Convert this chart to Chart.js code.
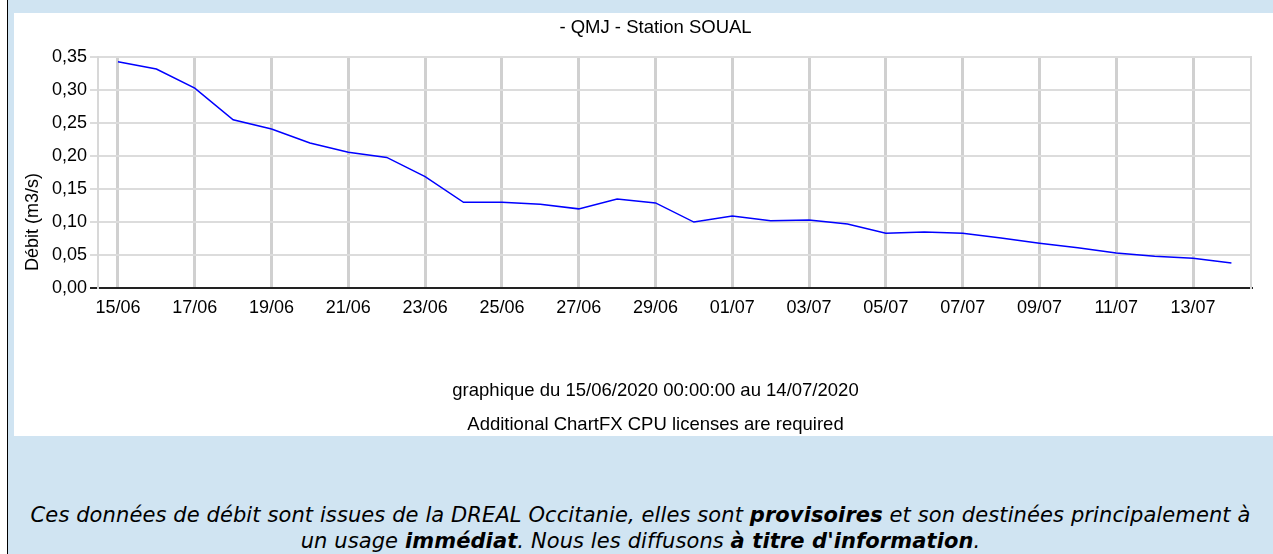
<!DOCTYPE html>
<html>
<head>
<meta charset="utf-8">
<script src="https://cdn.jsdelivr.net/npm/chart.js@4"></script>
<style>
  body { margin: 0; background: #fff; width: 1273px; height: 554px; overflow: hidden; position: relative; }
  #frame { position: absolute; left: 7px; top: 0; width: 1266px; height: 554px; border-left: 1px solid #000; background: #d0e4f2; }
  /* the white chart panel runs a bit past the right edge of the window */
  #panel { position: absolute; left: 14px; top: 13px; width: 1283px; height: 423px; background: #fff; }
  .foot { position: absolute; left: 0; width: 1283px; text-align: center; font: 18.5px "Liberation Sans", Arial, sans-serif; color: #000; line-height: 22px; }
  #note { position: absolute; left: 8px; width: 1265px; top: 502px; text-align: center; font: italic 21px "DejaVu Sans", Verdana, sans-serif; letter-spacing: 0.1px; line-height: 26px; color: #000; white-space: nowrap; }
</style>
</head>
<body>
<div id="frame"></div>
<div id="panel">
  <canvas id="myChart"></canvas>
  <div class="foot" style="top: 366px;">graphique du 15/06/2020 00:00:00 au 14/07/2020</div>
  <div class="foot" style="top: 400px;">Additional ChartFX CPU licenses are required</div>
</div>
<div id="note">Ces données de débit sont issues de la DREAL Occitanie, elles sont <b>provisoires</b> et son destinées principalement à<br>un usage <b>immédiat</b>. Nous les diffusons <b>à titre d'information</b>.</div>

<script>
// data (one value per day)
const dates = ['15/06', '16/06', '17/06', '18/06', '19/06', '20/06', '21/06', '22/06', '23/06', '24/06',
               '25/06', '26/06', '27/06', '28/06', '29/06', '30/06', '01/07', '02/07', '03/07', '04/07',
               '05/07', '06/07', '07/07', '08/07', '09/07', '10/07', '11/07', '12/07', '13/07', '14/07'];
const debit = [0.343, 0.332, 0.303, 0.255, 0.241, 0.220, 0.206, 0.198, 0.169, 0.130,
               0.130, 0.127, 0.120, 0.135, 0.129, 0.100, 0.109, 0.102, 0.103, 0.097,
               0.083, 0.085, 0.083, 0.076, 0.068, 0.061, 0.053, 0.048, 0.045, 0.038];
const xTickLabels = ['15/06', '17/06', '19/06', '21/06', '23/06', '25/06', '27/06', '29/06',
                     '01/07', '03/07', '05/07', '07/07', '09/07', '11/07', '13/07'];
const chartTitle = '- QMJ - Station SOUAL';
const yAxisTitle = 'Débit (m3/s)';

const font = { family: '"Liberation Sans", Arial, sans-serif', size: 18 };

// rotated y axis title, placed like ChartFX does (below centre)
const yTitlePlugin = {
    id: 'yTitle',
    afterDraw(chart) {
        const c = chart.ctx;
        c.save();
        c.translate(19, 209);
        c.rotate(-Math.PI / 2);
        c.font = '18px "Liberation Sans", Arial, sans-serif';
        c.fillStyle = '#000';
        c.textAlign = 'center';
        c.textBaseline = 'middle';
        c.fillText(yAxisTitle, 0, 0);
        c.restore();
    }
};

const ctx = document.getElementById('myChart').getContext('2d');
const myChart = new Chart(ctx, {
    type: 'line',
    data: {
        datasets: [{
            data: debit.map((v, i) => ({ x: i, y: v })),
            borderColor: '#0000ff',
            borderWidth: 1.5,
            pointRadius: 0,
            tension: 0,
            fill: false
        }]
    },
    options: {
        responsive: true,
        maintainAspectRatio: false,
        animation: false,
        layout: { padding: 0 },
        plugins: {
            legend: { display: false },
            tooltip: { enabled: false },
            title: {
                display: true,
                text: chartTitle,
                color: '#000',
                font: { ...font, size: 18.5, weight: 'normal' },
                padding: { top: 4, bottom: 18 }
            }
        },
        scales: {
            x: {
                type: 'linear',
                min: -0.52,
                max: 29.51,
                afterBuildTicks: s => { s.ticks = xTickLabels.map(l => ({ value: dates.indexOf(l) })); },
                afterFit: s => { s.height = 148; },
                ticks: {
                    color: '#000',
                    font: font,
                    padding: 9,
                    maxRotation: 0,
                    autoSkip: false,
                    callback: v => dates[v]
                },
                grid: { color: '#d0d0d0', lineWidth: 3, drawTicks: false },
                border: { color: '#222', width: 2 }
            },
            y: {
                min: 0,
                max: 0.35,
                afterFit: s => { s.width = 84; },
                ticks: {
                    stepSize: 0.05,
                    color: '#000',
                    font: font,
                    padding: 3,
                    callback: v => v.toFixed(2).replace('.', ',')
                },
                grid: {
                    color: c => (c.tick && c.tick.value === 0 ? '#222' : '#dcdcdc'),
                    lineWidth: 2,
                    tickLength: 8
                },
                border: { color: '#d8d8d8', width: 2 }
            },
            // empty right axis, only used for the right border of the plot
            y2: {
                position: 'right',
                afterFit: s => { s.width = 46; },
                ticks: { display: false },
                grid: { drawOnChartArea: false, drawTicks: false },
                border: { color: '#d8d8d8', width: 2 }
            }
        }
    },
    plugins: [yTitlePlugin]
});
</script>
</body>
</html>
